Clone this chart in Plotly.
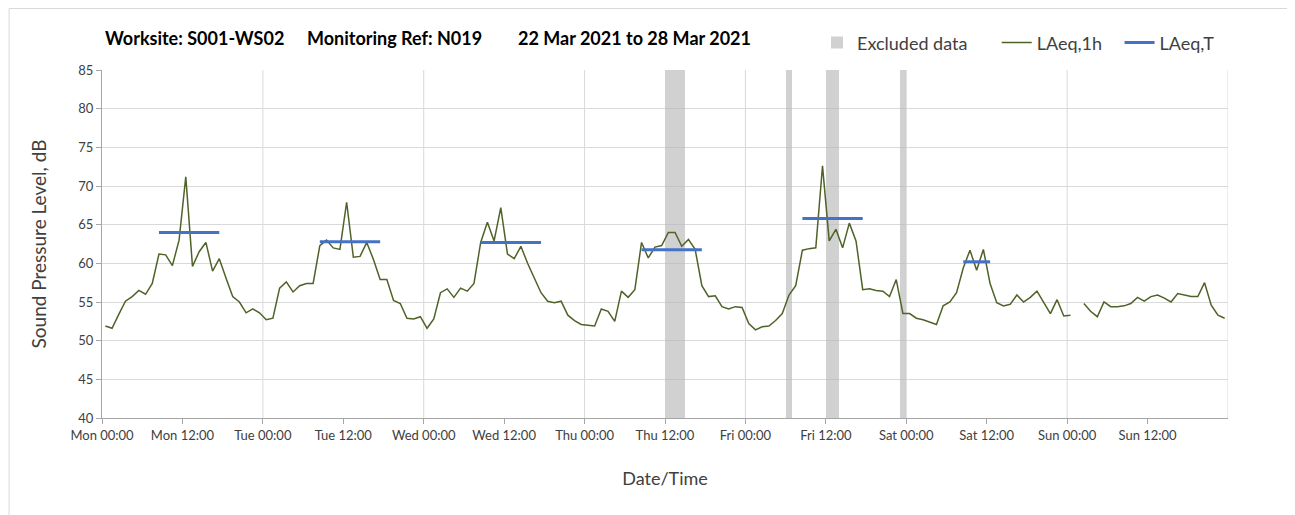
import plotly.graph_objects as go
import pandas as pd

# hourly LAeq,1h values (dB), one list per day, hour 00 .. 23
mon = [51.9, 51.6, 53.4, 55.1, 55.7, 56.5, 56.0, 57.4, 61.2, 61.1, 59.7, 63.0,
       71.2, 59.6, 61.5, 62.7, 59.0, 60.6, 58.1, 55.7, 55.0, 53.6, 54.1, 53.6]
tue = [52.7, 52.9, 56.8, 57.6, 56.3, 57.1, 57.4, 57.4, 62.3, 63.0, 62.0, 61.8,
       67.9, 60.8, 60.9, 62.7, 60.5, 57.9, 57.9, 55.2, 54.8, 52.9, 52.8, 53.1]
wed = [51.6, 52.8, 56.2, 56.7, 55.6, 56.8, 56.4, 57.4, 62.7, 65.3, 62.9, 67.2,
       61.2, 60.6, 62.2, 60.0, 58.1, 56.2, 55.1, 54.9, 55.1, 53.3, 52.6, 52.1]
thu = [52.0, 51.9, 54.1, 53.8, 52.5, 56.4, 55.6, 56.6, 62.7, 60.7, 62.1, 62.3,
       64.0, 64.0, 62.2, 63.1, 61.8, 57.1, 55.7, 55.8, 54.4, 54.1, 54.4, 54.3]
fri = [52.2, 51.4, 51.8, 51.9, 52.6, 53.5, 55.9, 57.1, 61.7, 61.9, 62.0, 72.6,
       62.9, 64.4, 62.0, 65.2, 62.9, 56.6, 56.7, 56.5, 56.4, 55.7, 57.9, 53.5]
sat = [53.5, 52.9, 52.7, 52.4, 52.1, 54.5, 55.0, 56.2, 59.4, 61.7, 59.1, 61.8,
       57.4, 54.9, 54.5, 54.7, 55.9, 55.0, 55.6, 56.4, 55.0, 53.5, 55.3, 53.2]
sun = [53.3, None, 54.8, 53.8, 53.1, 55.0, 54.4, 54.4, 54.5, 54.8, 55.6, 55.1,
       55.7, 55.9, 55.5, 55.0, 56.1, 55.9, 55.7, 55.7, 57.5, 54.6, 53.3, 52.9]

# LAeq,T per day (daytime periods)
laeqt_day = ["2021-03-22", "2021-03-23", "2021-03-24", "2021-03-25", "2021-03-26", "2021-03-27"]
laeqt_val = [64.0, 62.8, 62.7, 61.75, 65.8, 60.2]
laeqt_from = [8, 8, 8, 8, 8, 8]
laeqt_to = [18, 18, 18, 18, 18, 13]

# excluded data periods
excl_start = ["2021-03-25 12:00", "2021-03-26 06:00", "2021-03-26 12:00", "2021-03-26 23:00"]
excl_end = ["2021-03-25 15:00", "2021-03-26 07:00", "2021-03-26 14:00", "2021-03-27 00:00"]

title_parts = ["Worksite: S001-WS02", "Monitoring Ref: N019", "22 Mar 2021 to 28 Mar 2021"]

start = pd.Timestamp("2021-03-22 00:00")
levels = mon + tue + wed + thu + fri + sat + sun
times = [start + pd.Timedelta(minutes=30) + pd.Timedelta(hours=h) for h in range(len(levels))]

# LAeq,T segments, one per day, split by None
tx, ty = [], []
for d, v, a, b in zip(laeqt_day, laeqt_val, laeqt_from, laeqt_to):
    day = pd.Timestamp(d)
    tx += [day + pd.Timedelta(hours=a + 0.5), day + pd.Timedelta(hours=b - 0.5), None]
    ty += [v, v, None]

es = pd.to_datetime(excl_start)
ee = pd.to_datetime(excl_end)
mid = es + (ee - es) / 2
wid = [(e - s).total_seconds() * 1000 for s, e in zip(es, ee)]

YMIN, YMAX = 40, 85

fig = go.Figure()
fig.add_trace(go.Bar(
    x=mid, y=[YMAX - YMIN] * len(mid), base=YMIN, width=wid,
    marker=dict(color="rgba(185,185,185,0.65)", line=dict(width=0)),
    name="Excluded data", hoverinfo="skip", legend="legend"))
fig.add_trace(go.Scatter(
    x=times, y=levels, mode="lines", name="LAeq,1h",
    line=dict(color="#4f6228", width=1.5), connectgaps=False, legend="legend2"))
fig.add_trace(go.Scatter(
    x=tx, y=ty, mode="lines", name="LAeq,T",
    line=dict(color="#4472c4", width=3), legend="legend3"))

# vertical grid at midnight
for k in range(1, 8):
    day = start + pd.Timedelta(days=k)
    fig.add_shape(type="line", x0=day, x1=day, y0=0, y1=1, xref="x", yref="paper",
                  line=dict(color="#d9d9d9", width=1), layer="below")

# chart border
fig.add_shape(type="rect", xref="paper", yref="paper",
              x0=-0.0825, x1=1.0546, y0=-0.3, y1=1.1767,
              line=dict(color="#d9d9d9", width=1))

for txt, xp in zip(title_parts, [0.0013, 0.1806, 0.3678]):
    fig.add_annotation(
        text=txt, xref="paper", yref="paper", x=xp, y=1.092,
        xanchor="left", yanchor="middle", showarrow=False,
        font=dict(size=18, color="#000000", family="Lato", weight="bold"))

tickvals = pd.date_range(start, periods=14, freq="12h")

leg = dict(orientation="h", y=1.078, xanchor="left", yanchor="middle",
           font=dict(size=18, color="#404040"), itemwidth=30, bgcolor="rgba(0,0,0,0)")

fig.update_layout(
    width=1287, height=507,
    margin=dict(l=93.5, r=66.5, t=62, b=97),
    paper_bgcolor="white", plot_bgcolor="white",
    font=dict(family="Lato", color="#404040", size=13),
    bargap=0,
    showlegend=True,
    legend=dict(leg, x=0.635),
    legend2=dict(leg, x=0.7946),
    legend3=dict(leg, x=0.9037),
    xaxis=dict(
        type="date", range=[start, start + pd.Timedelta(days=7)],
        tickvals=tickvals, tickformat="%a %H:%M",
        showgrid=False, ticks="outside", ticklen=5, tickcolor="#a6a6a6",
        showline=True, linecolor="#a6a6a6", linewidth=1,
        tickfont=dict(size=13, color="#404040"),
        title=dict(text="Date/Time", font=dict(size=18, color="#404040"), standoff=30)),
    yaxis=dict(
        range=[YMIN, YMAX], dtick=5, showgrid=True, gridcolor="#d9d9d9",
        ticks="outside", ticklen=5, tickcolor="#a6a6a6",
        showline=True, linecolor="#a6a6a6", linewidth=1, zeroline=False,
        tickfont=dict(size=13, color="#404040"),
        title=dict(text="Sound Pressure Level, dB", font=dict(size=19, color="#404040"), standoff=26)),
)

fig.write_html("out.html")
